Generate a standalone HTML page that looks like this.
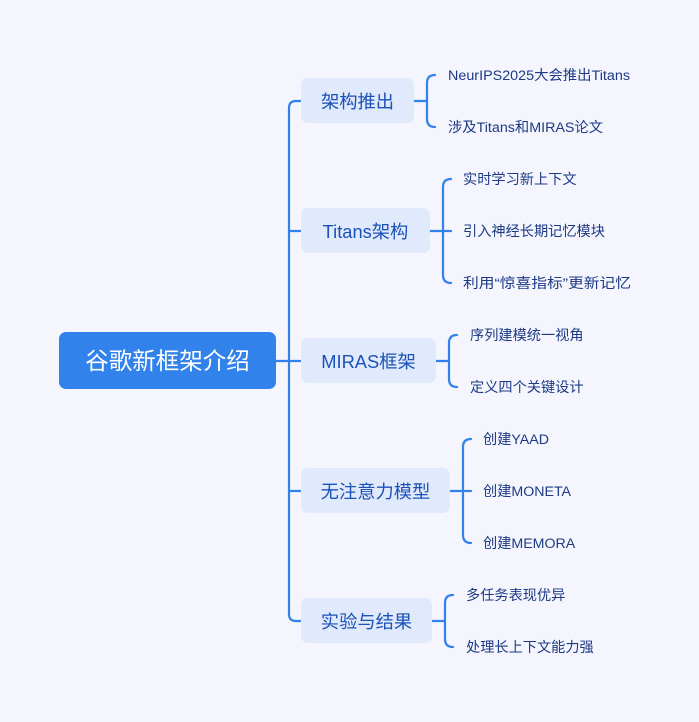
<!DOCTYPE html>
<html><head><meta charset="utf-8"><style>
html,body{margin:0;padding:0;background:#f4f5fd;}
svg{display:block;}
text{font-family:"Liberation Sans","Noto Sans CJK SC",sans-serif;}
.l1{font-size:18.3px;fill:#1a52b8;}
.lf{font-size:14.2px;fill:#1d3a86;}
</style></head><body>
<svg width="699" height="722" viewBox="0 0 699 722" xmlns="http://www.w3.org/2000/svg">
<rect width="699" height="722" fill="#f4f5fd"/>
<g fill="none" stroke="#3182ea" stroke-width="2.2" stroke-linecap="round">
<path d="M276 361 H301"/>
<path d="M301 101 H296 Q289 101 289 108 V614 Q289 621 296 621 H301"/>
<path d="M289 231 Q289 231 301 231 M289 491 Q289 491 301 491"/>
<path d="M414 101 H427 M435 75 Q427 75 427 83 V119 Q427 127 435 127"/>
<path d="M430 231 H451 M451 179 Q443 179 443 187 V275 Q443 283 451 283"/>
<path d="M436 361 H449 M457 335 Q449 335 449 343 V379 Q449 387 457 387"/>
<path d="M450 491 H471 M471 439 Q463 439 463 447 V535 Q463 543 471 543"/>
<path d="M432 621 H445 M453 595 Q445 595 445 603 V639 Q445 647 453 647"/>
</g>
<rect x="59" y="332" width="217" height="57" rx="7" fill="#3182ea"/>
<text x="167.5" y="369" text-anchor="middle" font-size="23.5" fill="#fff">谷歌新框架介绍</text>
<g fill="#e1e9fc">
<rect x="301" y="78" width="113" height="45" rx="7"/>
<rect x="301" y="208" width="129" height="45" rx="7"/>
<rect x="301" y="338" width="135" height="45" rx="7"/>
<rect x="301" y="468" width="149" height="45" rx="7"/>
<rect x="301" y="598" width="131" height="45" rx="7"/>
</g>
<g class="l1" text-anchor="middle">
<text x="357.5" y="108">架构推出</text>
<text x="365.5" y="238">Titans架构</text>
<text x="368.5" y="368">MIRAS框架</text>
<text x="375.5" y="498">无注意力模型</text>
<text x="366.5" y="628">实验与结果</text>
</g>
<g class="lf">
<text x="448" y="80" textLength="182" lengthAdjust="spacingAndGlyphs">NeurIPS2025大会推出Titans</text>
<text x="448" y="132" textLength="155" lengthAdjust="spacingAndGlyphs">涉及Titans和MIRAS论文</text>
<text x="463" y="184">实时学习新上下文</text>
<text x="463" y="236">引入神经长期记忆模块</text>
<text x="463" y="288" textLength="168" lengthAdjust="spacingAndGlyphs">利用“惊喜指标”更新记忆</text>
<text x="470" y="340">序列建模统一视角</text>
<text x="470" y="392">定义四个关键设计</text>
<text x="483" y="444">创建YAAD</text>
<text x="483" y="496">创建MONETA</text>
<text x="483" y="548">创建MEMORA</text>
<text x="466" y="600">多任务表现优异</text>
<text x="466" y="652">处理长上下文能力强</text>
</g>
</svg>
</body></html>
